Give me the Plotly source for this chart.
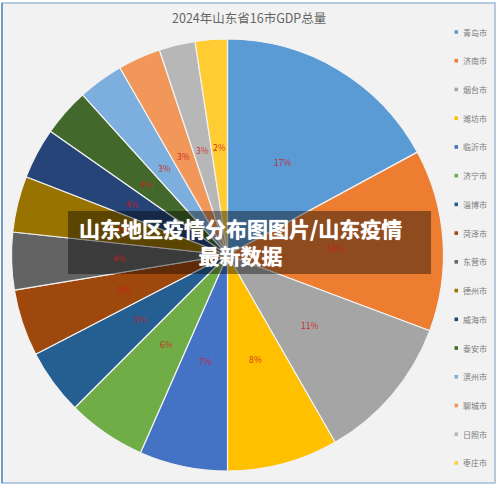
import math
import plotly.graph_objects as go

W, H = 500, 486
cities = ["青岛市", "济南市", "烟台市", "潍坊市", "临沂市", "济宁市", "淄博市", "菏泽市",
          "东营市", "德州市", "威海市", "泰安市", "滨州市", "聊城市", "日照市", "枣庄市"]
values = [17.1, 13.6, 11.0, 8.3, 6.6, 5.9, 4.9, 5.0, 4.3, 4.2, 3.8, 3.6, 3.4, 3.2, 2.7, 2.4]
pct_labels = ["17%", "14%", "11%", "8%", "7%", "6%", "5%", "5%",
              "4%", "4%", "4%", "4%", "3%", "3%", "3%", "2%"]
colors = ["#5B9BD5", "#ED7D31", "#A5A5A5", "#FFC000", "#4472C4", "#70AD47", "#255E91", "#9E480E",
          "#636363", "#997300", "#264478", "#43682B", "#7CAFDD", "#F1975A", "#B7B7B7", "#FFCD33"]
title = "2024年山东省16市GDP总量"
banner = "山东地区疫情分布图图片/山东疫情<br>最新数据"

FONT = "Noto Sans CJK SC"
cx, cy, R = 227.5, 255, 216

def px(x): return x / W
def py(y): return 1 - y / H

def note(x, y, text, size, color, xanchor="center", shadow=None, **kw):
    font = dict(family=FONT, size=size, color=color)
    if shadow:
        font["shadow"] = shadow
    return dict(x=px(x), y=py(y), text=text, showarrow=False, xref="paper", yref="paper",
                xanchor=xanchor, yanchor="middle", font=font, **kw)

fig = go.Figure(go.Pie(
    labels=cities, values=values, sort=False, direction="clockwise", rotation=0,
    marker=dict(colors=colors, line=dict(color="#F2F2F2", width=1.2)),
    textinfo="none", hoverinfo="label+percent", showlegend=False,
    domain=dict(x=[px(cx - R), px(cx + R)], y=[py(cy + R), py(cy - R)]),
))

annotations = [note(248.5, 18, title, 12.5, "#666666")]
shapes = []

# frame behind the pie
shapes.append(dict(type="rect", xref="paper", yref="paper", layer="below",
                   x0=px(2), x1=px(495), y0=py(483), y1=py(3),
                   fillcolor="#F2F2F2", line=dict(color="#9DBBD8", width=1.5)))
shapes.append(dict(type="line", xref="paper", yref="paper", layer="below",
                   x0=px(2), x1=px(2), y0=py(483), y1=py(3),
                   line=dict(color="#5B8DB8", width=1.5)))

# percentage labels at half radius of every slice
total = sum(values)
cum = 0
for v, lab in zip(values, pct_labels):
    a = 2 * math.pi * (cum + v / 2) / total
    cum += v
    annotations.append(note(cx + 0.5 * R * math.sin(a), cy - 0.5 * R * math.cos(a), lab,
                            8.5, "rgba(205,25,25,0.9)"))

# legend column
for i, (name, col) in enumerate(zip(cities, colors)):
    ly = 32 + i * 28.73
    shapes.append(dict(type="rect", xref="paper", yref="paper", layer="above",
                       x0=px(454.5), x1=px(458), y0=py(ly + 1.8), y1=py(ly - 1.8),
                       fillcolor=col, line=dict(width=0)))
    annotations.append(note(461, ly, name, 8, "#7A7A7A", xanchor="left"))

# banner
shapes.append(dict(type="rect", xref="paper", yref="paper", layer="above",
                   x0=px(68), x1=px(431), y0=py(274), y1=py(211),
                   fillcolor="rgba(0,0,0,0.4)", line=dict(width=0)))
annotations.append(note(240, 241, "<b>" + banner + "</b>", 21, "#FFFFFF",
                        shadow="0px 0px 1px #FFFFFF", align="center"))

fig.update_layout(width=W, height=H, margin=dict(l=0, r=0, t=0, b=0),
                  paper_bgcolor="#FFFFFF", plot_bgcolor="#F2F2F2",
                  shapes=shapes, annotations=annotations, showlegend=False)
fig.write_html("out.html", config=dict(displayModeBar=False),
               post_script="document.body.style.margin='0';document.documentElement.style.overflow='hidden';")
